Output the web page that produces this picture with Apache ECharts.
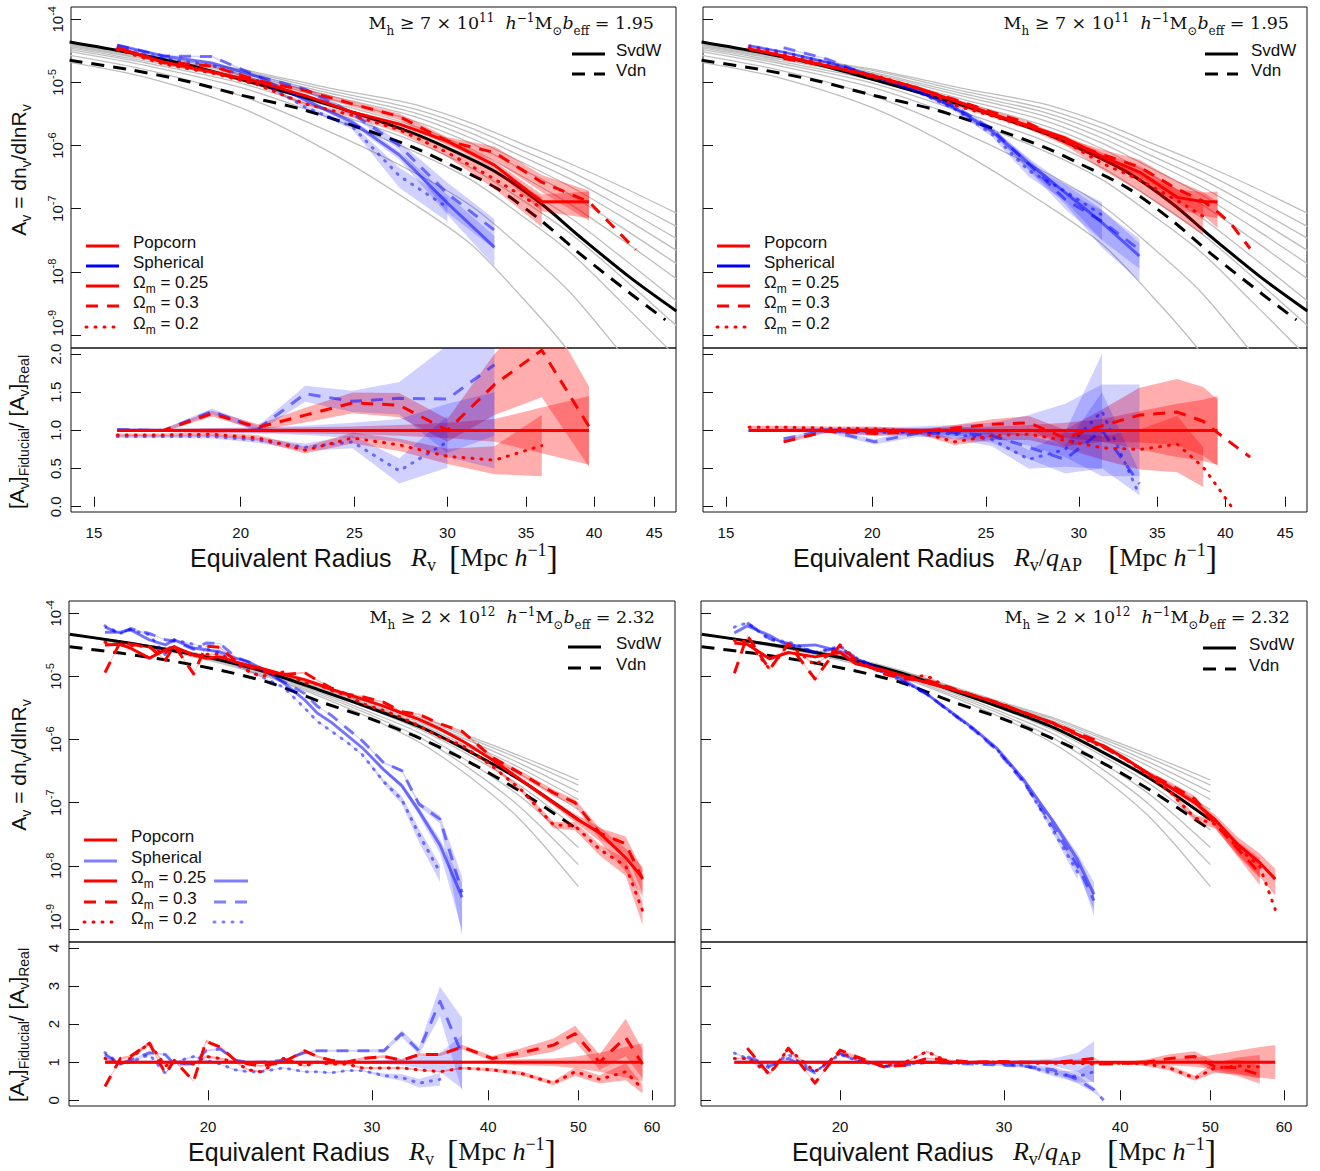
<!DOCTYPE html>
<html>
<head>
<meta charset="utf-8">
<title>Void size function</title>
<script src="https://cdn.jsdelivr.net/npm/echarts@6.0.0/dist/echarts.min.js"></script>
<style>
html, body { margin: 0; padding: 0; background: #fff; }
#chart { width: 1320px; height: 1171px; }
</style>
</head>
<body>
<div id="chart"></div>
<script>
// ---------- axes (R in Mpc/h; abundances stored as log10 A_v) ----------
const xRangeUpper = [14.34, 46.97];
const xRangeLower = [14.18, 63.5];
const yRangeAbund = [-9.206, -3.805];
const yRangeRatioUpper = [-0.069, 2.079];
const yRangeRatioLower = [-0.15, 4.158];
const xTicksUpper = [15, 20, 25, 30, 35, 40, 45];
const xTicksLower = [20, 30, 40, 50, 60];
const yTicksAbund = [-9, -8, -7, -6, -5, -4];
const yTicksRatioUpper = [0, 0.5, 1, 1.5, 2];
const yTicksRatioLower = [0, 1, 2, 3, 4];

// ---------- theory, M_h >= 7e11 ----------
const svdwR_hi = [14.3, 16, 18, 20, 22.5, 25, 28, 30, 33, 36, 39, 43, 47];
const svdw_hi  = [-4.36, -4.52, -4.72, -4.95, -5.22, -5.48, -5.80, -6.04, -6.42, -6.91, -7.46, -8.10, -8.62];
const vdnR_hi  = [14.3, 16, 18, 20, 22.5, 25, 28, 30, 33, 36, 39, 43, 46];
const vdn_hi   = [-4.65, -4.79, -4.98, -5.20, -5.42, -5.69, -6.02, -6.28, -6.67, -7.18, -7.73, -8.35, -8.76];
const grayR_hi = [14.3, 16.7, 20, 23.8, 28, 31.4, 34.6, 38.1, 42.1, 47];
const gray_hi = [
  [-4.36, -4.57, -4.79, -5.09, -5.34, -5.64, -5.96, -6.28, -6.64, -7.07],
  [-4.37, -4.58, -4.81, -5.13, -5.41, -5.72, -6.06, -6.40, -6.81, -7.28],
  [-4.39, -4.60, -4.84, -5.17, -5.47, -5.80, -6.16, -6.52, -6.96, -7.47],
  [-4.40, -4.61, -4.86, -5.21, -5.53, -5.88, -6.25, -6.64, -7.11, -7.66],
  [-4.41, -4.63, -4.89, -5.26, -5.60, -5.96, -6.36, -6.77, -7.28, -7.87],
  [-4.43, -4.64, -4.92, -5.31, -5.68, -6.05, -6.47, -6.92, -7.47, -8.11],
  [-4.45, -4.67, -4.96, -5.38, -5.79, -6.19, -6.65, -7.13, -7.75, -8.46],
  [-4.48, -4.70, -5.01, -5.46, -5.92, -6.35, -6.84, -7.38, -8.06, -8.85],
  [-4.51, -4.74, -5.08, -5.56, -6.08, -6.54, -7.09, -7.68, -8.46, -9.35],
  [-4.57, -4.81, -5.21, -5.78, -6.41, -6.95, -7.60, -8.31, -9.27, -10.37],
  [-4.68, -4.93, -5.40, -6.10, -6.91, -7.56, -8.37, -9.27, -10.5, -11.93]
];

// ---------- theory, M_h >= 2e12 ----------
const thR_lo = [14.2, 16.1, 18.2, 20.6, 23.3, 26.4, 29.9, 33.8, 38.2, 43.3, 50];
const svdw_lo = [-4.33, -4.45, -4.58, -4.74, -4.95, -5.22, -5.50, -5.80, -6.19, -6.64, -7.27];
const vdn_lo  = [-4.53, -4.63, -4.75, -4.90, -5.10, -5.40, -5.67, -5.98, -6.36, -6.82, -7.43];
const gray_lo = [
  [-4.33, -4.44, -4.56, -4.71, -4.91, -5.16, -5.41, -5.65, -5.95, -6.26, -6.64],
  [-4.33, -4.44, -4.56, -4.71, -4.91, -5.17, -5.42, -5.67, -5.98, -6.31, -6.72],
  [-4.33, -4.44, -4.57, -4.72, -4.92, -5.18, -5.43, -5.70, -6.02, -6.38, -6.83],
  [-4.33, -4.45, -4.57, -4.73, -4.93, -5.19, -5.45, -5.73, -6.07, -6.45, -6.95],
  [-4.33, -4.45, -4.58, -4.73, -4.94, -5.20, -5.48, -5.76, -6.13, -6.55, -7.11],
  [-4.33, -4.45, -4.58, -4.75, -4.96, -5.24, -5.52, -5.84, -6.25, -6.73, -7.43],
  [-4.33, -4.46, -4.59, -4.76, -4.98, -5.26, -5.57, -5.90, -6.36, -6.90, -7.71],
  [-4.33, -4.46, -4.60, -4.77, -5.00, -5.29, -5.61, -5.97, -6.46, -7.07, -7.98],
  [-4.33, -4.47, -4.61, -4.79, -5.02, -5.32, -5.66, -6.05, -6.59, -7.27, -8.33]
];

// ---------- measurements: M_h >= 7e11, R_v ----------
const R_a = [15.7, 17.2, 18.9, 20.7, 22.7, 24.9, 27.3, 30.0, 32.9, 36.1, 39.6, 43.4];
const popSolid_a = [-4.45, -4.68, -4.83, -4.99, -5.21, -5.47, -5.66, -5.93, -6.31, -6.89, -6.89];
const popDash_a  = [-4.45, -4.68, -4.74, -4.97, -5.13, -5.34, -5.54, -5.93, -6.11, -6.58, -6.89, -7.65];
const popDot_a   = [-4.48, -4.71, -4.85, -5.04, -5.34, -5.52, -5.75, -6.11, -6.53, -6.99];
const sphSolid_a = [-4.41, -4.58, -4.69, -4.91, -5.28, -5.63, -6.15, -6.91, -7.61];
const sphDash_a  = [-4.41, -4.58, -4.59, -4.90, -5.11, -5.49, -6.00, -6.76, -7.34];
const sphDot_a   = [-4.45, -4.62, -4.73, -4.97, -5.39, -5.70, -6.48, -6.98];
const popDashRatio_a = [1.0, 1.0, 1.22, 1.04, 1.2, 1.36, 1.33, 1.0, 1.6, 2.05, 1.05];
const popDotRatio_a  = [0.94, 0.94, 0.95, 0.9, 0.74, 0.9, 0.81, 0.66, 0.61, 0.8];
const sphDashRatio_a = [1.01, 1.0, 1.25, 1.02, 1.48, 1.38, 1.42, 1.41, 1.86];
const sphDotRatio_a  = [0.92, 0.92, 0.92, 0.87, 0.78, 0.85, 0.47, 0.85];
const popSolidErr_a = [0.02, 0.02, 0.03, 0.03, 0.04, 0.05, 0.07, 0.1, 0.15, 0.3, 0.45];
const popDashErr_a  = [0.02, 0.02, 0.03, 0.04, 0.08, 0.1, 0.12, 0.15, 0.25, 0.3, 0.5];
const popDotErr_a   = [0.02, 0.02, 0.03, 0.04, 0.06, 0.08, 0.1, 0.15, 0.3, 0.5];
const sphSolidErr_a = [0.02, 0.02, 0.03, 0.04, 0.06, 0.1, 0.15, 0.35, 0.5];
const sphDashErr_a  = [0.02, 0.02, 0.03, 0.04, 0.07, 0.1, 0.15, 0.5, 0.5];
const sphDotErr_a   = [0.02, 0.02, 0.03, 0.04, 0.06, 0.1, 0.35, 0.4];

// ---------- measurements: M_h >= 7e11, R_v / q_AP ----------
const R_b = [15.7, 16.8, 18.3, 20.1, 21.8, 23.5, 25.3, 27.2, 29.2, 31.4, 33.8, 36.4, 38.3, 39.4, 40.5, 42.0];
const popSolid_b = [-4.47, -4.58, -4.74, -4.90, -5.08, -5.29, -5.50, -5.69, -5.88, -6.17, -6.42, -6.82, -6.89, -6.89];
const popDash_b  = [null, -4.62, -4.74, -4.92, -5.09, -5.27, -5.47, -5.65, -5.93, -6.14, -6.34, -6.69, -6.88, -7.05, -7.25, -7.63];
const popDot_b   = [-4.45, -4.56, -4.73, -4.89, -5.08, -5.36, -5.53, -5.71, -5.94, -6.28, -6.54, -6.87, -7.12];
const sphSolid_b = [-4.42, -4.52, -4.68, -4.90, -5.12, -5.40, -5.77, -6.28, -6.74, -7.22, -7.75];
const sphDash_b  = [null, -4.45, -4.63, -4.92, -5.12, -5.38, -5.74, -6.30, -6.85, -7.20, -7.65];
const sphDot_b   = [-4.42, -4.52, -4.68, -4.91, -5.14, -5.42, -5.82, -6.40, -6.72, -7.10];
const popDashRatio_b = [null, 0.85, 0.99, 0.96, 0.98, 1.03, 1.08, 1.1, 0.9, 1.06, 1.2, 1.24, 1.12, 0.97, 0.83, 0.65];
const popDotRatio_b  = [1.04, 1.04, 1.03, 1.02, 0.99, 0.85, 0.93, 0.95, 0.87, 0.77, 0.75, 0.82, 0.52, 0.26, 0.0];
const sphDashRatio_b = [null, 0.89, 1.0, 0.85, 0.96, 0.97, 0.93, 0.78, 0.62, 1.0, 0.3];
const sphDotRatio_b  = [1.0, 1.0, 1.0, 0.97, 0.98, 0.95, 0.88, 0.62, 0.75, 1.25, 0.15];
const popSolidErr_b = [0.02, 0.02, 0.02, 0.03, 0.03, 0.04, 0.05, 0.07, 0.1, 0.15, 0.25, 0.35, 0.4, 0.45];
const popDashErr_b  = [null, 0.02, 0.02, 0.03, 0.03, 0.04, 0.06, 0.08, 0.12, 0.2, 0.3, 0.35, 0.4, 0.45];
const popDotErr_b   = [0.02, 0.02, 0.02, 0.03, 0.03, 0.05, 0.06, 0.08, 0.12, 0.2, 0.35, 0.45, 0.5];
const sphSolidErr_b = [0.02, 0.02, 0.03, 0.04, 0.05, 0.07, 0.1, 0.2, 0.35, 0.6, 0.6];
const sphDashErr_b  = [null, 0.02, 0.03, 0.04, 0.05, 0.07, 0.1, 0.2, 0.3, 0.5, 0.5];
const sphDotErr_b   = [0.02, 0.02, 0.03, 0.04, 0.05, 0.07, 0.1, 0.2, 0.3, 0.6];

// ---------- measurements: M_h >= 2e12, R_v ----------
const R_c = [15.5, 16.1, 16.5, 17.3, 18.0, 18.4, 19.3, 19.9, 20.6, 21.4, 22.1, 22.8, 24.1, 25.4, 26.2,
             27.1, 28.2, 29.3, 30.9, 32.3, 33.7, 35.5, 37.5, 40.4, 43.5, 47.0, 49.6, 52.7, 56.2, 58.6];
const popSolid_c = [-4.50, -4.49, -4.55, -4.71, -4.58, -4.53, -4.66, -4.71, -4.69, -4.77, -4.82, -4.87, -4.97, -5.05, -5.12,
                    -5.20, -5.28, -5.36, -5.47, -5.58, -5.68, -5.83, -6.02, -6.32, -6.65, -7.00, -7.24, -7.48, -7.87, -8.19];
const popDash_c  = [-4.94, -4.45, -4.49, -4.53, -4.74, -4.51, -4.96, -4.52, -4.54, -4.75, -4.84, -4.92, -4.97, -4.94, -5.06,
                    -5.18, -5.28, -5.32, -5.41, -5.56, -5.60, -5.75, -5.87, -6.28, -6.55, -6.84, -7.00, -7.48, -7.65, -8.21];
const popDot_c   = [-4.46, -4.51, -4.51, -4.53, -4.63, -4.53, -4.68, -4.65, -4.65, -4.77, -4.92, -5.00, -4.93, -5.10, -5.12,
                    -5.22, -5.30, -5.43, -5.54, -5.65, -5.78, -5.96, -6.09, -6.42, -6.81, -7.35, -7.37, -7.74, -8.00, -8.71];
const sphSolid_c = [-4.30, -4.30, -4.26, -4.42, -4.50, -4.42, -4.55, -4.58, -4.61, -4.71, -4.77, -4.87, -5.10, -5.37, -5.58,
                    -5.72, -5.93, -6.13, -6.48, -6.73, -7.13, -7.67, -8.50];
const sphDash_c  = [-4.22, -4.32, -4.24, -4.32, -4.42, -4.44, -4.57, -4.47, -4.48, -4.69, -4.77, -4.87, -5.08, -5.27, -5.47,
                    -5.61, -5.82, -6.02, -6.37, -6.49, -7.02, -7.26, -8.42];
const sphDot_c   = [-4.20, -4.32, -4.26, -4.34, -4.66, -4.42, -4.49, -4.56, -4.63, -4.81, -4.90, -5.00, -5.17, -5.50, -5.71,
                    -5.86, -6.04, -6.24, -6.67, -6.95, -7.50, -8.10];
const popDashRatio_c = [0.36, 1.1, 1.15, 1.5, 0.7, 1.05, 0.5, 1.55, 1.4, 1.05, 0.95, 0.9, 1.0, 1.3, 1.15,
                        1.05, 1.0, 1.1, 1.15, 1.05, 1.2, 1.2, 1.4, 1.1, 1.25, 1.45, 1.75, 1.0, 1.65, 0.95];
const popDotRatio_c  = [1.1, 0.95, 1.1, 1.5, 0.9, 1.0, 0.95, 1.15, 1.1, 1.0, 0.8, 0.75, 1.1, 0.9, 1.0,
                        0.95, 0.95, 0.85, 0.85, 0.85, 0.8, 0.75, 0.85, 0.8, 0.7, 0.45, 0.75, 0.55, 0.75, 0.3];
const sphDashRatio_c = [1.2, 0.95, 1.05, 1.25, 1.2, 0.95, 0.95, 1.3, 1.35, 1.05, 1.0, 1.0, 1.05, 1.25, 1.3,
                        1.3, 1.3, 1.3, 1.3, 1.75, 1.3, 2.6, 1.2];
const sphDotRatio_c  = [1.25, 0.95, 1.0, 1.2, 0.7, 1.0, 1.15, 1.05, 0.95, 0.8, 0.75, 0.75, 0.85, 0.75, 0.75,
                        0.72, 0.78, 0.78, 0.65, 0.6, 0.45, 0.55];
const popSolidErr_c = [0.02, 0.02, 0.02, 0.02, 0.02, 0.02, 0.02, 0.02, 0.02, 0.02, 0.02, 0.02, 0.02, 0.02, 0.02,
                       0.02, 0.02, 0.02, 0.02, 0.02, 0.02, 0.03, 0.03, 0.05, 0.08, 0.1, 0.15, 0.25, 0.4, 0.5];
const popDashErr_c  = [0.03, 0.03, 0.03, 0.03, 0.03, 0.03, 0.03, 0.03, 0.03, 0.03, 0.03, 0.03, 0.03, 0.03, 0.03,
                       0.03, 0.03, 0.03, 0.03, 0.03, 0.03, 0.03, 0.04, 0.06, 0.1, 0.12, 0.12, 0.2, 0.3, 0.4];
const popDotErr_c   = [0.03, 0.03, 0.03, 0.03, 0.03, 0.03, 0.03, 0.03, 0.03, 0.03, 0.03, 0.03, 0.03, 0.03, 0.03,
                       0.03, 0.03, 0.03, 0.03, 0.03, 0.03, 0.03, 0.04, 0.06, 0.08, 0.12, 0.15, 0.2, 0.3, 0.4];
const sphSolidErr_c = [0.02, 0.02, 0.02, 0.02, 0.02, 0.02, 0.02, 0.02, 0.02, 0.02, 0.02, 0.02, 0.02, 0.02, 0.02,
                       0.02, 0.02, 0.02, 0.05, 0.08, 0.15, 0.25, 0.7];
const sphDashErr_c  = [0.02, 0.02, 0.02, 0.02, 0.02, 0.02, 0.02, 0.02, 0.02, 0.02, 0.02, 0.02, 0.02, 0.02, 0.02,
                       0.02, 0.02, 0.02, 0.04, 0.05, 0.08, 0.15, 0.8];
const sphDotErr_c   = [0.02, 0.02, 0.02, 0.02, 0.02, 0.02, 0.02, 0.02, 0.02, 0.02, 0.02, 0.02, 0.02, 0.02, 0.02,
                       0.02, 0.02, 0.02, 0.08, 0.15, 0.25, 0.3];

// ---------- measurements: M_h >= 2e12, R_v / q_AP ----------
const R_d = [15.4, 15.9, 16.8, 17.6, 18.8, 20.0, 20.8, 22.3, 23.5, 24.8, 26.2, 27.8, 29.5, 31.5, 33.9, 36.0, 37.5,
             38.4, 40.5, 42.7, 45.2, 48.1, 50.6, 53.5, 56.5, 58.7];
const popSolid_d = [-4.47, -4.49, -4.72, -4.62, -4.69, -4.62, -4.80, -4.90, -5.00, -5.10, -5.19, -5.30, -5.42, -5.57, -5.74,
                    -5.92, -6.04, -6.10, -6.30, -6.52, -6.75, -7.00, -7.27, -7.66, -7.95, -8.21];
const popDash_d  = [-4.95, -4.35, -4.89, -4.48, -5.04, -4.50, -4.74, -4.96, -5.04, -5.06, -5.17, -5.30, -5.41, -5.57, -5.74,
                    -5.90, -6.00, -6.12, -6.31, -6.52, -6.71, -6.94, -7.33, -7.73, -8.12];
const popDot_d   = [-4.43, -4.45, -4.88, -4.49, -4.82, -4.52, -4.76, -4.95, -5.00, -4.99, -5.19, -5.30, -5.42, -5.58, -5.75,
                    -5.93, -6.06, -6.12, -6.31, -6.54, -6.82, -7.24, -7.34, -7.71, -8.01, -8.69];
const sphSolid_d = [-4.31, -4.20, -4.35, -4.52, -4.50, -4.60, -4.72, -4.90, -5.07, -5.28, -5.54, -5.82, -6.14, -6.63, -7.30,
                    -7.90, -8.45];
const sphDash_d  = [null, -4.15, -4.40, -4.48, -4.62, -4.55, -4.70, -4.93, -5.10, -5.28, -5.55, -5.84, -6.17, -6.68, -7.38,
                    -8.00, -8.55];
const sphDot_d   = [-4.22, -4.15, -4.42, -4.45, -4.62, -4.52, -4.70, -4.95, -5.09, -5.28, -5.55, -5.83, -6.16, -6.66, -7.45,
                    -8.10];
const popDashRatio_d = [null, 1.37, 0.67, 1.37, 0.45, 1.32, 1.15, 0.88, 0.92, 1.1, 1.05, 1.0, 1.02, 1.0, 1.0,
                        1.05, 1.1, 0.95, 0.97, 1.0, 1.1, 1.15, 0.88, 0.85, 0.67];
const popDotRatio_d  = [1.1, 1.1, 0.7, 1.35, 0.75, 1.25, 1.1, 0.9, 1.0, 1.28, 1.0, 1.0, 1.0, 0.98, 0.97,
                        0.97, 0.95, 0.95, 0.98, 0.95, 0.85, 0.58, 0.85, 0.9, 0.88];
const sphDashRatio_d = [null, 1.15, 0.9, 1.1, 0.72, 1.24, 1.05, 0.88, 0.92, 1.0, 0.97, 0.95, 0.93, 0.9, 0.8,
                        0.55, 0.27, 0.0];
const sphDotRatio_d  = [1.24, 1.1, 0.85, 1.2, 0.75, 1.2, 1.05, 0.9, 0.95, 1.0, 0.98, 0.97, 0.97, 0.92, 0.7,
                        0.62, 0.75];
const popSolidErr_d = [0.02, 0.02, 0.02, 0.02, 0.02, 0.02, 0.02, 0.02, 0.02, 0.02, 0.02, 0.02, 0.02, 0.02, 0.02,
                       0.02, 0.02, 0.02, 0.02, 0.05, 0.08, 0.12, 0.2, 0.3, 0.4, 0.45];
const popDashErr_d  = [0.02, 0.02, 0.02, 0.02, 0.02, 0.02, 0.02, 0.02, 0.02, 0.02, 0.02, 0.02, 0.02, 0.02, 0.02,
                       0.02, 0.02, 0.02, 0.03, 0.08, 0.1, 0.12, 0.15, 0.25, 0.35];
const popDotErr_d   = [0.02, 0.02, 0.02, 0.02, 0.02, 0.02, 0.02, 0.02, 0.02, 0.02, 0.02, 0.02, 0.02, 0.02, 0.02,
                       0.02, 0.02, 0.02, 0.03, 0.06, 0.08, 0.12, 0.15, 0.25, 0.35];
const sphSolidErr_d = [0.02, 0.02, 0.02, 0.02, 0.02, 0.02, 0.02, 0.02, 0.02, 0.02, 0.02, 0.02, 0.03, 0.05, 0.1,
                       0.25, 0.55];
const sphDashErr_d  = [0.02, 0.02, 0.02, 0.02, 0.02, 0.02, 0.02, 0.02, 0.02, 0.02, 0.02, 0.02, 0.03, 0.05, 0.1,
                       0.2, 0.3, 0.3];
const sphDotErr_d   = [0.02, 0.02, 0.02, 0.02, 0.02, 0.02, 0.02, 0.02, 0.02, 0.02, 0.02, 0.02, 0.03, 0.05, 0.1,
                       0.25, 0.35];

// ---------- drawing ----------
const lg = Math.log10;
const SANS = '"Liberation Sans", Arial, sans-serif';
const SERIF = '"DejaVu Serif", "Liberation Serif", serif';
const MATH = '"Liberation Serif", serif';
const RED = '#ff0000';
const BLUE = 'rgba(0,0,255,0.5)';
const RED_BAND = 'rgba(255,0,0,0.32)';
const BLUE_BAND = 'rgba(0,0,255,0.18)';
const GRAY = '#bebebe';
const DASH = [12, 9];
const DOT = [1, 8];
const BLACK_DASH = [13, 9];

const series = [];

function addLine(g, R, v, color, width, dash, z, smooth) {
  const data = [];
  for (let i = 0; i < R.length; i++) if (v[i] != null) data.push([lg(R[i]), v[i]]);
  series.push({
    type: 'line', xAxisIndex: g, yAxisIndex: g, data, symbol: 'none', showSymbol: false,
    smooth: smooth || false, silent: true, z, clip: true, animation: false,
    lineStyle: { color, width, type: dash || 'solid', cap: dash === DOT ? 'round' : 'butt', join: 'round' }
  });
}

// filled band between two bounds, drawn as one polygon and clipped to its grid
function addBand(g, R, lo, hi, color, z) {
  const pts = [];
  for (let i = 0; i < R.length; i++) if (lo[i] != null && hi[i] != null) pts.push([lg(R[i]), lo[i], hi[i]]);
  if (pts.length < 2) return;
  series.push({
    type: 'custom', xAxisIndex: g, yAxisIndex: g, coordinateSystem: 'cartesian2d',
    silent: true, z, animation: false, data: pts, encode: { x: 0, y: [1, 2] },
    renderItem(params, api) {
      if (params.dataIndex !== 0) return null;
      const up = pts.map(p => api.coord([p[0], p[2]]));
      const dn = pts.map(p => api.coord([p[0], p[1]])).reverse();
      const cs = params.coordSys;
      return {
        type: 'polygon', shape: { points: up.concat(dn) }, style: { fill: color },
        clipPath: { type: 'rect', shape: { x: cs.x, y: cs.y, width: cs.width, height: cs.height } }
      };
    }
  });
}

function logBand(v, e) {
  const lo = [], hi = [];
  v.forEach((x, i) => { if (x != null && e[i] != null) { lo[i] = x + lg(1 - e[i]); hi[i] = x + lg(1 + e[i]); } });
  return [lo, hi];
}
function linBand(r, e) {
  const lo = [], hi = [];
  r.forEach((x, i) => { if (x != null && e[i] != null) { lo[i] = x * (1 - e[i]); hi[i] = x * (1 + e[i]); } });
  return [lo, hi];
}

function buildPanel(gTop, gRat, th, d) {
  th.gray.forEach(c => addLine(gTop, th.grayR, c, GRAY, 1.3, null, 2, 0.3));
  addLine(gTop, th.svdwR, th.svdw, '#000', 3, null, 3, 0.3);
  addLine(gTop, th.vdnR, th.vdn, '#000', 3, BLACK_DASH, 3, 0.3);

  const pop = [[d.popSolid, d.popSolidErr, null], [d.popDash, d.popDashErr, DASH], [d.popDot, d.popDotErr, DOT]];
  const sph = [[d.sphSolid, d.sphSolidErr, null], [d.sphDash, d.sphDashErr, DASH], [d.sphDot, d.sphDotErr, DOT]];
  pop.forEach(([v, e]) => { const [lo, hi] = logBand(v, e); addBand(gTop, d.R, lo, hi, RED_BAND, 4); });
  sph.forEach(([v, e]) => { const [lo, hi] = logBand(v, e); addBand(gTop, d.R, lo, hi, BLUE_BAND, 5); });
  sph.forEach(([v, , dash]) => addLine(gTop, d.R, v, BLUE, 3, dash, 6));
  pop.forEach(([v, , dash]) => addLine(gTop, d.R, v, RED, 3, dash, 7));

  const oneP = d.popSolid.map(() => 1);
  const oneS = d.sphSolid.map(() => 1);
  const rPop = [[oneP, d.popSolidErr, null], [d.popDashRatio, d.popDashErr, DASH], [d.popDotRatio, d.popDotErr, DOT]];
  const rSph = [[oneS, d.sphSolidErr, null], [d.sphDashRatio, d.sphDashErr, DASH], [d.sphDotRatio, d.sphDotErr, DOT]];
  rPop.forEach(([v, e]) => { const [lo, hi] = linBand(v, e); addBand(gRat, d.R, lo, hi, RED_BAND, 4); });
  rSph.forEach(([v, e]) => { const [lo, hi] = linBand(v, e); addBand(gRat, d.R, lo, hi, BLUE_BAND, 5); });
  rSph.forEach(([v, , dash]) => addLine(gRat, d.R, v, BLUE, 3, dash, 6));
  rPop.forEach(([v, , dash]) => addLine(gRat, d.R, v, RED, 3, dash, 7));
}

const theoryHi = { grayR: grayR_hi, gray: gray_hi, svdwR: svdwR_hi, svdw: svdw_hi, vdnR: vdnR_hi, vdn: vdn_hi };
const theoryLo = { grayR: thR_lo, gray: gray_lo, svdwR: thR_lo, svdw: svdw_lo, vdnR: thR_lo, vdn: vdn_lo };

buildPanel(0, 1, theoryHi, {
  R: R_a, popSolid: popSolid_a, popDash: popDash_a, popDot: popDot_a,
  sphSolid: sphSolid_a, sphDash: sphDash_a, sphDot: sphDot_a,
  popDashRatio: popDashRatio_a, popDotRatio: popDotRatio_a, sphDashRatio: sphDashRatio_a, sphDotRatio: sphDotRatio_a,
  popSolidErr: popSolidErr_a, popDashErr: popDashErr_a, popDotErr: popDotErr_a,
  sphSolidErr: sphSolidErr_a, sphDashErr: sphDashErr_a, sphDotErr: sphDotErr_a
});
buildPanel(2, 3, theoryHi, {
  R: R_b, popSolid: popSolid_b, popDash: popDash_b, popDot: popDot_b,
  sphSolid: sphSolid_b, sphDash: sphDash_b, sphDot: sphDot_b,
  popDashRatio: popDashRatio_b, popDotRatio: popDotRatio_b, sphDashRatio: sphDashRatio_b, sphDotRatio: sphDotRatio_b,
  popSolidErr: popSolidErr_b, popDashErr: popDashErr_b, popDotErr: popDotErr_b,
  sphSolidErr: sphSolidErr_b, sphDashErr: sphDashErr_b, sphDotErr: sphDotErr_b
});
buildPanel(4, 5, theoryLo, {
  R: R_c, popSolid: popSolid_c, popDash: popDash_c, popDot: popDot_c,
  sphSolid: sphSolid_c, sphDash: sphDash_c, sphDot: sphDot_c,
  popDashRatio: popDashRatio_c, popDotRatio: popDotRatio_c, sphDashRatio: sphDashRatio_c, sphDotRatio: sphDotRatio_c,
  popSolidErr: popSolidErr_c, popDashErr: popDashErr_c, popDotErr: popDotErr_c,
  sphSolidErr: sphSolidErr_c, sphDashErr: sphDashErr_c, sphDotErr: sphDotErr_c
});
buildPanel(6, 7, theoryLo, {
  R: R_d, popSolid: popSolid_d, popDash: popDash_d, popDot: popDot_d,
  sphSolid: sphSolid_d, sphDash: sphDash_d, sphDot: sphDot_d,
  popDashRatio: popDashRatio_d, popDotRatio: popDotRatio_d, sphDashRatio: sphDashRatio_d, sphDotRatio: sphDotRatio_d,
  popSolidErr: popSolidErr_d, popDashErr: popDashErr_d, popDotErr: popDotErr_d,
  sphSolidErr: sphSolidErr_d, sphDashErr: sphDashErr_d, sphDotErr: sphDotErr_d
});

// ---------- layout ----------
const gridBoxes = [
  [71, 7, 605, 341], [71, 348, 605, 164],
  [703, 7, 604, 341], [703, 348, 604, 164],
  [69, 601, 606, 341], [69, 942, 606, 164],
  [701, 601, 606, 341], [701, 942, 606, 164]
];
const grid = gridBoxes.map(([left, top, width, height]) => ({
  left, top, width, height, show: true, borderColor: '#111', borderWidth: 1,
  backgroundColor: 'transparent', containLabel: false, outerBoundsMode: 'none'
}));

const TICK = { show: true, inside: true, length: 10, lineStyle: { color: '#111', width: 1 } };
const LABEL_COLOR = '#111';

function xAxisFor(g, range, ticks, withLabels) {
  return {
    type: 'value', gridIndex: g, min: lg(range[0]), max: lg(range[1]),
    axisLine: { show: false }, splitLine: { show: false },
    axisTick: withLabels ? Object.assign({ customValues: ticks.map(lg) }, TICK) : { show: false },
    axisLabel: withLabels ? {
      show: true, customValues: ticks.map(lg), margin: 13, fontSize: 15, fontFamily: SANS, color: LABEL_COLOR,
      formatter: v => String(Math.round(Math.pow(10, v)))
    } : { show: false }
  };
}
function yAxisAbund(g, withLabels) {
  return {
    type: 'value', gridIndex: g, min: yRangeAbund[0], max: yRangeAbund[1],
    axisLine: { show: false }, splitLine: { show: false },
    axisTick: Object.assign({ customValues: yTicksAbund }, TICK),
    axisLabel: withLabels ? {
      show: true, customValues: yTicksAbund, rotate: 90, margin: 6,
      // the lowest decade label sits a little higher so it clears the ratio panel's labels
      formatter: v => (v === -9 ? '{g|}' : '') + '{b|10}{s|' + v + '}',
      rich: {
        b: { fontSize: 15, fontFamily: SANS, color: LABEL_COLOR, lineHeight: 15, verticalAlign: 'bottom' },
        s: { fontSize: 11, fontFamily: SANS, color: LABEL_COLOR, lineHeight: 11, verticalAlign: 'bottom', padding: [0, 0, 8, 0] },
        g: { width: 24, height: 1 }
      }
    } : { show: false }
  };
}
function yAxisRatio(g, range, ticks, digits, withLabels) {
  return {
    type: 'value', gridIndex: g, min: range[0], max: range[1],
    axisLine: { show: false }, splitLine: { show: false },
    axisTick: Object.assign({ customValues: ticks }, TICK),
    axisLabel: withLabels ? {
      show: true, customValues: ticks, rotate: 90, margin: 8, fontSize: 15, fontFamily: SANS, color: LABEL_COLOR,
      formatter: v => v.toFixed(digits)
    } : { show: false }
  };
}

const xAxis = [
  xAxisFor(0, xRangeUpper, xTicksUpper, false), xAxisFor(1, xRangeUpper, xTicksUpper, true),
  xAxisFor(2, xRangeUpper, xTicksUpper, false), xAxisFor(3, xRangeUpper, xTicksUpper, true),
  xAxisFor(4, xRangeLower, xTicksLower, false), xAxisFor(5, xRangeLower, xTicksLower, true),
  xAxisFor(6, xRangeLower, xTicksLower, false), xAxisFor(7, xRangeLower, xTicksLower, true)
];
const yAxis = [
  yAxisAbund(0, true), yAxisRatio(1, yRangeRatioUpper, yTicksRatioUpper, 1, true),
  yAxisAbund(2, false), yAxisRatio(3, yRangeRatioUpper, yTicksRatioUpper, 1, false),
  yAxisAbund(4, true), yAxisRatio(5, yRangeRatioLower, yTicksRatioLower, 0, true),
  yAxisAbund(6, false), yAxisRatio(7, yRangeRatioLower, yTicksRatioLower, 0, false)
];

// ---------- annotations ----------
const graphics = [];
function tok(fam, size, padB, extra) {
  return Object.assign({ fontFamily: fam, fontSize: size, lineHeight: size, color: '#111',
    verticalAlign: 'bottom', padding: [0, 0, padB, 0] }, extra || {});
}
function txt(x, y, text, rich, align, rot) {
  graphics.push({
    type: 'text', x, y, rotation: rot || 0, silent: true, z: 100,
    style: { text, rich, align: align || 'left', verticalAlign: 'middle',
      textAlign: align || 'left', textVerticalAlign: 'middle', fill: '#111' }
  });
}
function seg(x1, y1, x2, y2, color, width, dash) {
  graphics.push({
    type: 'line', silent: true, z: 100, shape: { x1, y1, x2, y2 },
    style: { stroke: color, lineWidth: width, lineDash: dash || null, lineCap: dash === DOT ? 'round' : 'butt' }
  });
}

const RICH_TITLE = { n: tok(SERIF, 17.5, 5), i: tok(SERIF, 17.5, 5, { fontStyle: 'italic' }), b: tok(SERIF, 12, 0), p: tok(SERIF, 12, 13) };
const RICH_LEG = { a: tok(SANS, 17, 4), s: tok(SANS, 12, 0) };
const RICH_X = { s: tok(SANS, 25, 4), m: tok(MATH, 26, 4), i: tok(MATH, 26, 4, { fontStyle: 'italic' }),
  b: tok(MATH, 18, 0), p: tok(MATH, 18, 15), k: tok(MATH, 34, 0) };
const RICH_Y = { a: tok(SANS, 21, 4), s: tok(SANS, 14, 0) };

const title7e11 = '{n|M}{b|h}{n| ≥ 7 × 10}{p|11}{n|  }{i|h}{p|−1}{n|M}{b|⊙}{i|b}{b|eff}{n| = 1.95}';
const title2e12 = '{n|M}{b|h}{n| ≥ 2 × 10}{p|12}{n|  }{i|h}{p|−1}{n|M}{b|⊙}{i|b}{b|eff}{n| = 2.32}';
const xTitleR = '{s|Equivalent Radius}{m|   }{i|R}{b|v}{m|  }{k|[}{m|Mpc }{i|h}{p|−1}{k|]}';
const xTitleRq = '{s|Equivalent Radius}{m|   }{i|R}{b|v}{m|/}{i|q}{b|AP}{m|    }{k|[}{m|Mpc }{i|h}{p|−1}{k|]}';
const yTitleA = '{a|A}{s|v}{a| = dn}{s|v}{a|/dlnR}{s|v}';
const yTitleRatio = '{a|[A}{s|v}{a|]}{s|Fiducial}{a|/ [A}{s|v}{a|]}{s|Real}';

txt(654, 28, title7e11, RICH_TITLE, 'right');
txt(1289, 28, title7e11, RICH_TITLE, 'right');
txt(655, 622, title2e12, RICH_TITLE, 'right');
txt(1290, 622, title2e12, RICH_TITLE, 'right');

// model legends (upper right of each abundance panel)
[[572, 616, 54, 74], [1205, 1251, 54, 74], [568, 616, 647, 668], [1203, 1249, 648, 669]].forEach(([x0, xt, y1, y2]) => {
  seg(x0, y1, x0 + 33, y1, '#000', 3);
  seg(x0, y2, x0 + 33, y2, '#000', 3, BLACK_DASH);
  txt(xt, y1, '{a|SvdW}', RICH_LEG);
  txt(xt, y2, '{a|Vdn}', RICH_LEG);
});

// sample legends
function sampleLegend(x0, xt, ys, sphColor, extraBlueX) {
  seg(x0, ys[0], x0 + 33, ys[0], RED, 3);
  seg(x0, ys[1], x0 + 33, ys[1], sphColor, 3);
  seg(x0, ys[2], x0 + 33, ys[2], RED, 3);
  seg(x0, ys[3], x0 + 33, ys[3], RED, 3, DASH);
  seg(x0, ys[4], x0 + 33, ys[4], RED, 3, DOT);
  txt(xt, ys[0], '{a|Popcorn}', RICH_LEG);
  txt(xt, ys[1], '{a|Spherical}', RICH_LEG);
  txt(xt, ys[2], '{a|Ω}{s|m}{a| = 0.25}', RICH_LEG);
  txt(xt, ys[3], '{a|Ω}{s|m}{a| = 0.3}', RICH_LEG);
  txt(xt, ys[4], '{a|Ω}{s|m}{a| = 0.2}', RICH_LEG);
  if (extraBlueX) {
    seg(extraBlueX, ys[2], extraBlueX + 34, ys[2], BLUE, 3);
    seg(extraBlueX, ys[3], extraBlueX + 34, ys[3], BLUE, 3, DASH);
    seg(extraBlueX, ys[4], extraBlueX + 34, ys[4], BLUE, 3, DOT);
  }
}
sampleLegend(86, 133, [246, 266, 286, 306, 327], '#0000ff');
sampleLegend(717, 764, [246, 266, 286, 306, 327], '#0000ff');
sampleLegend(84, 131, [840, 861, 881, 902, 922], BLUE, 214);

// axis titles
txt(374, 557, xTitleR, RICH_X, 'center');
txt(1005, 557, xTitleRq, RICH_X, 'center');
txt(372, 1151, xTitleR, RICH_X, 'center');
txt(1004, 1151, xTitleRq, RICH_X, 'center');
txt(22, 170, yTitleA, RICH_Y, 'center', Math.PI / 2);
txt(22, 765, yTitleA, RICH_Y, 'center', Math.PI / 2);
txt(20, 432, yTitleRatio, RICH_Y, 'center', Math.PI / 2);
txt(20, 1025, yTitleRatio, RICH_Y, 'center', Math.PI / 2);

const chart = echarts.init(document.getElementById('chart'), null, { renderer: 'svg' });
chart.setOption({
  animation: false,
  backgroundColor: '#fff',
  grid, xAxis, yAxis, series,
  graphic: { elements: graphics }
});
</script>
</body>
</html>
